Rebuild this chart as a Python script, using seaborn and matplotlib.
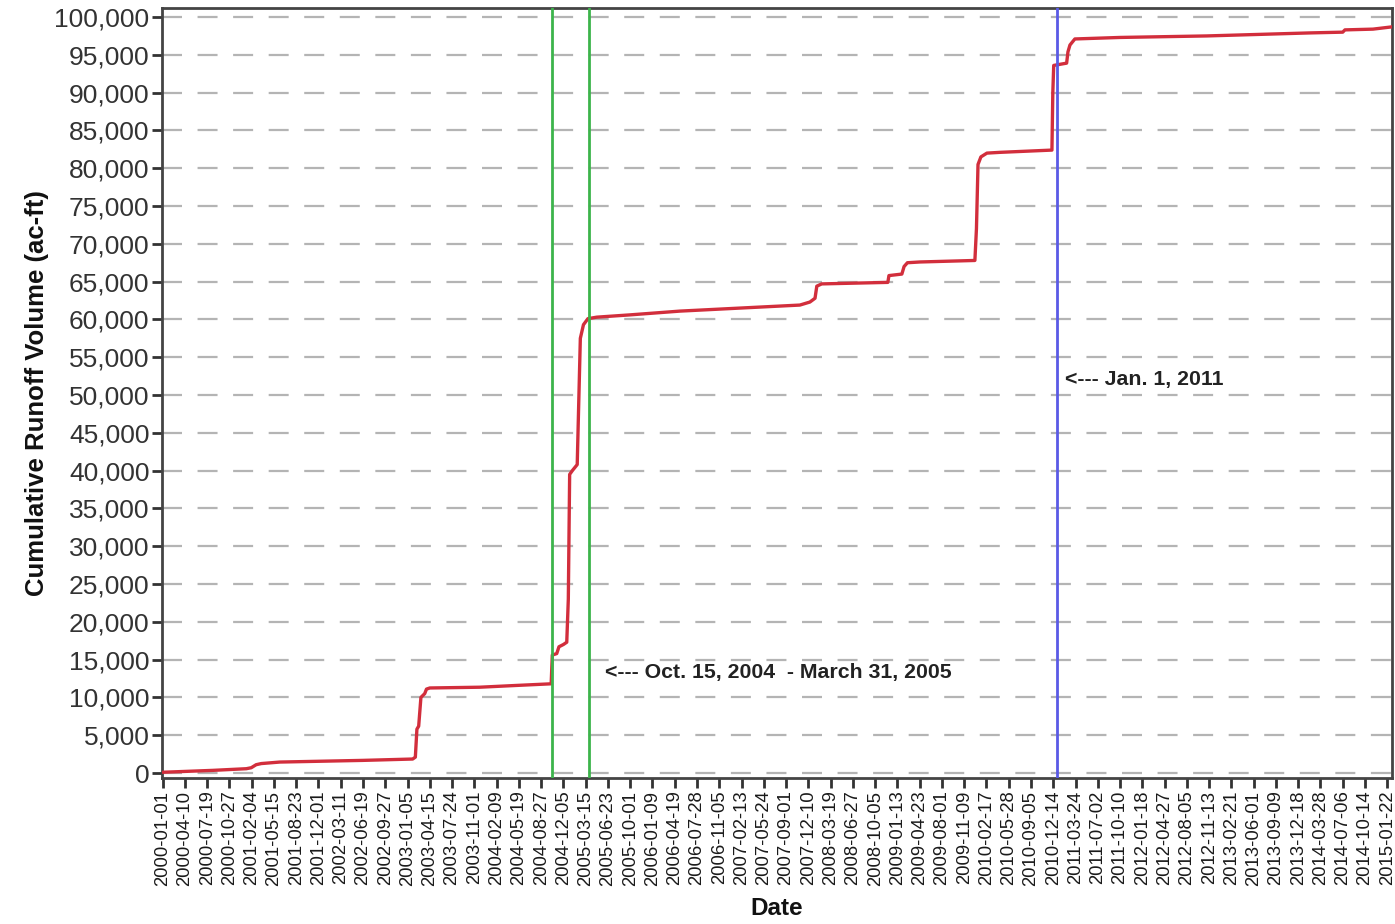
import numpy as np
import pandas as pd
import matplotlib
matplotlib.use("Agg")
import matplotlib.pyplot as plt
import seaborn as sns

# ---- data ----
start_date = "2000-01-01"
day_offset = [0, 225, 376, 398, 420, 443, 526, 898, 1123, 1135, 1142, 1150, 1160,
              1177, 1185, 1200, 1424, 1600, 1745, 1750, 1770, 1780, 1800, 1815,
              1822, 1828, 1840, 1862, 1868, 1876, 1890, 1910, 1950, 2098, 2323,
              2592, 2862, 2907, 2930, 2938, 2960, 3257, 3262, 3320, 3330, 3345,
              3401, 3648, 3655, 3662, 3675, 3702, 3760, 3994, 3998, 4002, 4060,
              4066, 4075, 4097, 4300, 4689, 5153, 5300, 5310, 5436, 5521]
volume = [100, 350, 570, 700, 1100, 1250, 1450, 1670, 1850, 2100, 5800, 6200,
          10000, 10500, 11100, 11250, 11350, 11600, 11800, 15600, 15800, 16700,
          17000, 17300, 23000, 39500, 40000, 40800, 48000, 57500, 59300, 60100,
          60300, 60600, 61100, 61500, 61900, 62300, 62800, 64400, 64700, 64900,
          65800, 66000, 67000, 67500, 67600, 67800, 72000, 80500, 81500, 82000,
          82100, 82400, 90000, 93600, 93900, 95400, 96300, 97100, 97300, 97500,
          97900, 98000, 98300, 98400, 98700]
period_lines = ["2004-10-15", "2005-03-31"]
policy_line = "2011-01-01"
annot_period = "<--- Oct. 15, 2004  - March 31, 2005"
annot_policy = "<--- Jan. 1, 2011"
y_ticks = list(range(0, 100001, 5000))
tick_step_days = 100
n_xticks = 56

dates = pd.Timestamp(start_date) + pd.to_timedelta(day_offset, unit="D")
df = pd.DataFrame({"Date": dates, "Volume": volume})

sns.set_theme(style="white")
plt.rcParams["font.family"] = ["Liberation Sans", "DejaVu Sans"]

fig = plt.figure(figsize=(13.95, 9.24), dpi=100)
ax = fig.add_axes([0.1161, 0.158, 0.9978 - 0.1161, 0.9913 - 0.158])

# horizontal dashed grid
for yv in y_ticks:
    ax.axhline(yv, color="#b4b4b4", lw=1.6, ls=(0, (9, 7)), zorder=0)

sns.lineplot(data=df, x="Date", y="Volume", ax=ax, color="#d22e3c",
             linewidth=2.4, zorder=3)

for d in period_lines:
    ax.axvline(pd.Timestamp(d), color="#3cb44b", lw=2.0, zorder=4)
ax.axvline(pd.Timestamp(policy_line), color="#5a5ae6", lw=2.0, zorder=4)

ax.text(pd.Timestamp("2005-06-09"), 13300, annot_period, fontsize=15.3,
        fontweight="bold", color="#222222", va="center", ha="left")
ax.text(pd.Timestamp("2011-02-04"), 52000, annot_policy, fontsize=15.3,
        fontweight="bold", color="#222222", va="center", ha="left")

xt = pd.date_range(start_date, periods=n_xticks, freq=f"{tick_step_days}D")
ax.set_xticks(xt)
ax.set_xticklabels([t.strftime("%Y-%m-%d") for t in xt], rotation=90,
                   fontsize=13.3, color="#1a1a1a")
ax.set_xlim(pd.Timestamp(start_date) - pd.Timedelta(days=3),
            pd.Timestamp(start_date) + pd.Timedelta(days=5521))

ax.set_yticks(y_ticks)
ax.set_yticklabels([f"{v:,}" for v in y_ticks], fontsize=19, color="#333333")
ax.set_ylim(-660, 101190)

ax.tick_params(axis="both", which="major", direction="out", length=7,
               width=2, color="#333333", left=True, bottom=True, pad=2)

for s in ax.spines.values():
    s.set_color("#444444")
    s.set_linewidth(2)

ax.set_xlabel("Date", fontsize=17.5, fontweight="bold", color="#111111", labelpad=8)
ax.set_ylabel("Cumulative Runoff Volume (ac-ft)", fontsize=18.5,
              fontweight="bold", color="#111111", labelpad=4)

fig.savefig("out.png", dpi=100)
